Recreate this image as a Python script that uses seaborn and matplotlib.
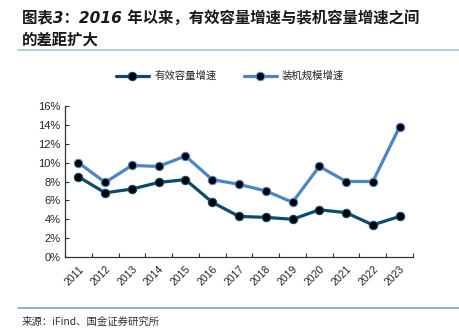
import matplotlib
matplotlib.use("Agg")
import matplotlib.pyplot as plt
import seaborn as sns
import pandas as pd
from matplotlib.lines import Line2D
from matplotlib.ticker import FuncFormatter, FixedLocator

sns.set_theme(style="white")
plt.rcParams['font.family'] = ['Noto Sans CJK SC', 'DejaVu Sans']

years = ["2011", "2012", "2013", "2014", "2015", "2016", "2017",
         "2018", "2019", "2020", "2021", "2022", "2023"]
effective_growth = [8.5, 6.8, 7.2, 7.9, 8.2, 5.8, 4.3, 4.2, 4.0, 5.0, 4.7, 3.4, 4.3]
installed_growth = [10.0, 7.9, 9.7, 9.6, 10.7, 8.2, 7.7, 7.0, 5.8, 9.6, 8.0, 8.0, 13.8]
series_names = ["有效容量增速", "装机规模增速"]
title_text = "图表3：2016 年以来，有效容量增速与装机容量增速之间\n的差距扩大"
source_text = "来源：iFind、国金证券研究所"

colors = ["#0B4C6E", "#4A86C6"]

df = pd.DataFrame({
    "year": years * 2,
    "value": [v / 100 for v in effective_growth] + [v / 100 for v in installed_growth],
    "series": [series_names[0]] * len(years) + [series_names[1]] * len(years),
})

fig = plt.figure(figsize=(4.6, 3.3), dpi=100)
ax = fig.add_axes([65 / 460, 1 - 257 / 330, 348 / 460, 151 / 330])

sns.lineplot(data=df, x="year", y="value", hue="series", palette=colors,
             ax=ax, lw=2.3, marker="o", markersize=6, markerfacecolor="black",
             markeredgewidth=0.8, legend=False, sort=False)
for line, c in zip(ax.lines, colors):
    line.set_markeredgecolor(c)

ax.set_xlim(-0.5, len(years) - 0.5)
ax.set_ylim(0, 0.16)
ax.yaxis.set_major_locator(FixedLocator([i / 100 for i in range(0, 17, 2)]))
ax.yaxis.set_major_formatter(FuncFormatter(lambda v, p: f"{round(v*100)}%"))
ax.set_xlabel("")
ax.set_ylabel("")

ax.set_xticks(range(len(years)))
ax.set_xticklabels(years, rotation=45, ha="right", rotation_mode="anchor",
                   fontsize=7.5, color="#222222", family=["Liberation Sans"])
ax.tick_params(axis="x", which="major", length=0, pad=5)
ax.set_xticks([i - 0.5 for i in range(len(years) + 1)], minor=True)
ax.tick_params(axis="x", which="minor", direction="in", length=3, width=0.8,
               color="#333333", bottom=True)
ax.tick_params(axis="y", direction="in", length=3, width=0.8, color="#333333",
               labelsize=8, labelcolor="#222222", left=True, pad=3)
for lab in ax.get_yticklabels():
    lab.set_family(["Liberation Sans"])

for s in ["top", "right"]:
    ax.spines[s].set_visible(False)
for s in ["left", "bottom"]:
    ax.spines[s].set_color("#333333")
    ax.spines[s].set_linewidth(0.9)
ax.grid(False)

handles = [Line2D([0], [0], color=c, lw=2.3, marker="o", markersize=6,
                  markerfacecolor="black", markeredgecolor=c, markeredgewidth=0.8)
           for c in colors]
fig.legend(handles, series_names, loc="center", bbox_to_anchor=(0.5, 1 - 76 / 330),
           ncol=2, frameon=False, fontsize=7.5, handlelength=3.2, columnspacing=2.6,
           handletextpad=0.5)

fig.text(22 / 460, 1 - 10 / 330, title_text, ha="left", va="top", fontsize=11.1,
         fontweight="bold", style="italic", color="#1a1a1a", linespacing=1.55,
         family=["DejaVu Sans", "Noto Sans CJK SC"])

fig.add_artist(Line2D([18 / 460, 1.0], [1 - 50 / 330] * 2, color="#A9C3D6", lw=1.2,
                      transform=fig.transFigure))
fig.add_artist(Line2D([18 / 460, 1.0], [1 - 308 / 330] * 2, color="#7FA7B9", lw=1.2,
                      transform=fig.transFigure))
fig.text(22 / 460, 1 - 322 / 330, source_text, ha="left", va="center", fontsize=7.5,
         color="#333333")

fig.savefig("out.png", dpi=100)
